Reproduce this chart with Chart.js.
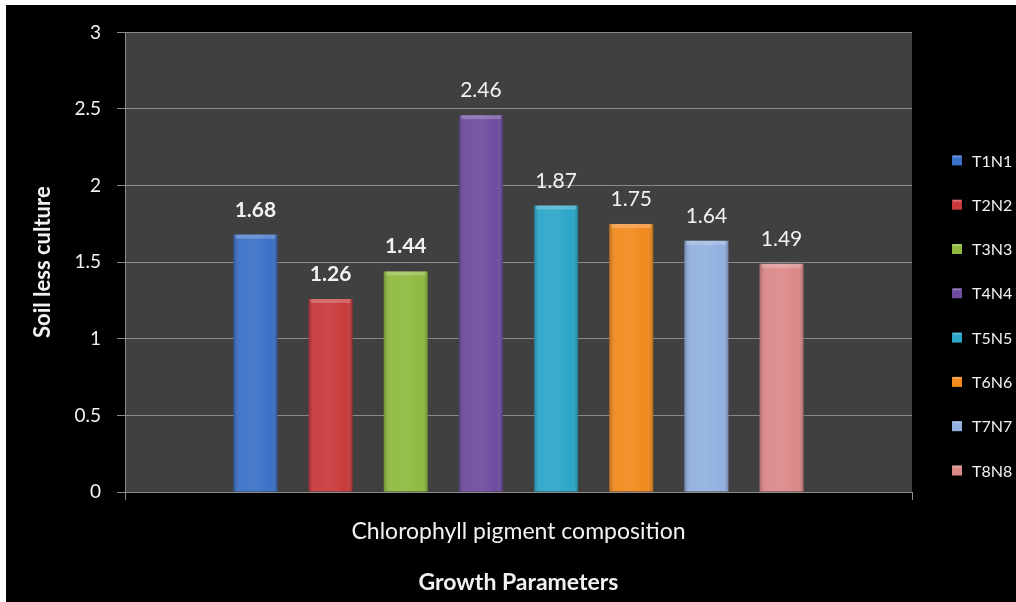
<!DOCTYPE html>
<html>
<head>
<meta charset="utf-8">
<script src="https://cdn.jsdelivr.net/npm/chart.js@4.4.1/dist/chart.umd.min.js"></script>
<style>
html, body { margin: 0; padding: 0; background: #fff; }
#marco { position: absolute; left: 6px; top: 5px; width: 1010px; height: 597px; background: #000; }
</style>
</head>
<body>
<div id="marco"><canvas id="grafica"></canvas></div>
<script>
const categorias = ['Chlorophyll pigment composition'];
const tratamientos = ['T1N1', 'T2N2', 'T3N3', 'T4N4', 'T5N5', 'T6N6', 'T7N7', 'T8N8'];
const valores = [1.68, 1.26, 1.44, 2.46, 1.87, 1.75, 1.64, 1.49];
const colores = ['#3a70c6', '#c8393b', '#8fba3e', '#6e4ba0', '#2ba6c8', '#f28a1e', '#92b0e0', '#dc8888'];
const etiquetaNegrita = [true, true, true, false, false, false, false, false];
const ticksY = [0, 0.5, 1, 1.5, 2, 2.5, 3];

const GRIS = '#8a8a8a';
const TEXTO = '#f2f2f2';

// fondo negro y area del grafico gris oscuro
const fondo = {
    id: 'fondo',
    beforeDraw(chart) {
        const { ctx, chartArea } = chart;
        ctx.save();
        ctx.fillStyle = '#000';
        ctx.fillRect(0, 0, chart.width, chart.height);
        ctx.fillStyle = '#404040';
        ctx.fillRect(chartArea.left, chartArea.top, chartArea.right - chartArea.left, chartArea.bottom - chartArea.top);
        ctx.restore();
    }
};

// sombreado de las barras y valores encima
const valoresBarras = {
    id: 'valoresBarras',
    afterDatasetsDraw(chart) {
        const ctx = chart.ctx;
        ctx.save();
        chart.data.datasets.forEach((ds, i) => {
            chart.getDatasetMeta(i).data.forEach((bar, j) => {
                const izq = bar.x - bar.width / 2;
                const g = ctx.createLinearGradient(izq, 0, izq + bar.width, 0);
                g.addColorStop(0, 'rgba(0,0,0,0.22)');
                g.addColorStop(0.15, 'rgba(255,255,255,0.05)');
                g.addColorStop(0.5, 'rgba(255,255,255,0.08)');
                g.addColorStop(0.85, 'rgba(255,255,255,0.0)');
                g.addColorStop(1, 'rgba(0,0,0,0.25)');
                ctx.fillStyle = g;
                ctx.fillRect(izq, bar.y, bar.width, bar.base - bar.y);
                ctx.fillStyle = 'rgba(255,255,255,0.22)';
                ctx.fillRect(izq + 2, bar.y, bar.width - 4, 4);

                ctx.fillStyle = TEXTO;
                ctx.font = (etiquetaNegrita[i] ? 'bold ' : '') + '21px Lato';
                ctx.textAlign = 'center';
                ctx.textBaseline = 'alphabetic';
                ctx.fillText(ds.data[j].toFixed(2), bar.x, bar.y - 18);
            });
        });
        ctx.restore();
    }
};

// leyenda a la derecha
const leyenda = {
    id: 'leyenda',
    afterDraw(chart) {
        const { ctx, chartArea } = chart;
        const x0 = chartArea.right + 40;
        ctx.save();
        ctx.font = '16px Lato';
        ctx.textAlign = 'left';
        ctx.textBaseline = 'middle';
        chart.data.datasets.forEach((ds, i) => {
            const y = chartArea.top + 128 + i * 44.3;
            ctx.fillStyle = ds.backgroundColor;
            ctx.fillRect(x0, y - 5, 10, 10);
            ctx.fillStyle = 'rgba(255,255,255,0.25)';
            ctx.fillRect(x0 + 1, y - 5, 8, 2);
            ctx.fillStyle = TEXTO;
            ctx.fillText(ds.label, x0 + 20, y + 1);
        });
        ctx.restore();
    }
};

const grafica = new Chart(document.getElementById('grafica').getContext('2d'), {
    type: 'bar',
    data: {
        labels: categorias,
        datasets: tratamientos.map((t, i) => ({
            label: t,
            data: [valores[i]],
            backgroundColor: colores[i],
            borderWidth: 0,
            categoryPercentage: 0.764,
            barPercentage: 0.585
        }))
    },
    options: {
        responsive: true,
        maintainAspectRatio: false,
        animation: false,
        layout: { padding: { top: 25, left: 0, bottom: 0, right: 104 } },
        plugins: {
            legend: { display: false },
            tooltip: { enabled: false }
        },
        scales: {
            x: {
                offset: true,
                grid: { display: true, drawOnChartArea: false, color: GRIS, tickLength: 8, offset: true },
                border: { color: GRIS },
                ticks: { color: TEXTO, font: { family: 'Lato', size: 23 }, padding: 18 },
                title: {
                    display: true, text: 'Growth Parameters', color: TEXTO,
                    font: { family: 'Lato', size: 23, weight: 'bold' },
                    padding: { top: 0, bottom: 6 }
                },
                afterFit(scale) { scale.height = 110; }
            },
            y: {
                min: 0,
                max: 3,
                afterBuildTicks(scale) { scale.ticks = ticksY.map(v => ({ value: v })); },
                grid: { color: GRIS, tickLength: 8 },
                border: { color: GRIS },
                ticks: {
                    color: TEXTO, font: { family: 'Lato', size: 19 }, padding: 16,
                    callback: (v) => String(v)
                },
                title: {
                    display: true, text: 'Soil less culture', color: TEXTO,
                    font: { family: 'Lato', size: 22, weight: 'bold' },
                    padding: { top: 24, bottom: 0 }
                },
                afterFit(scale) { scale.width = 119; }
            }
        }
    },
    plugins: [fondo, valoresBarras, leyenda]
});
</script>
</body>
</html>
